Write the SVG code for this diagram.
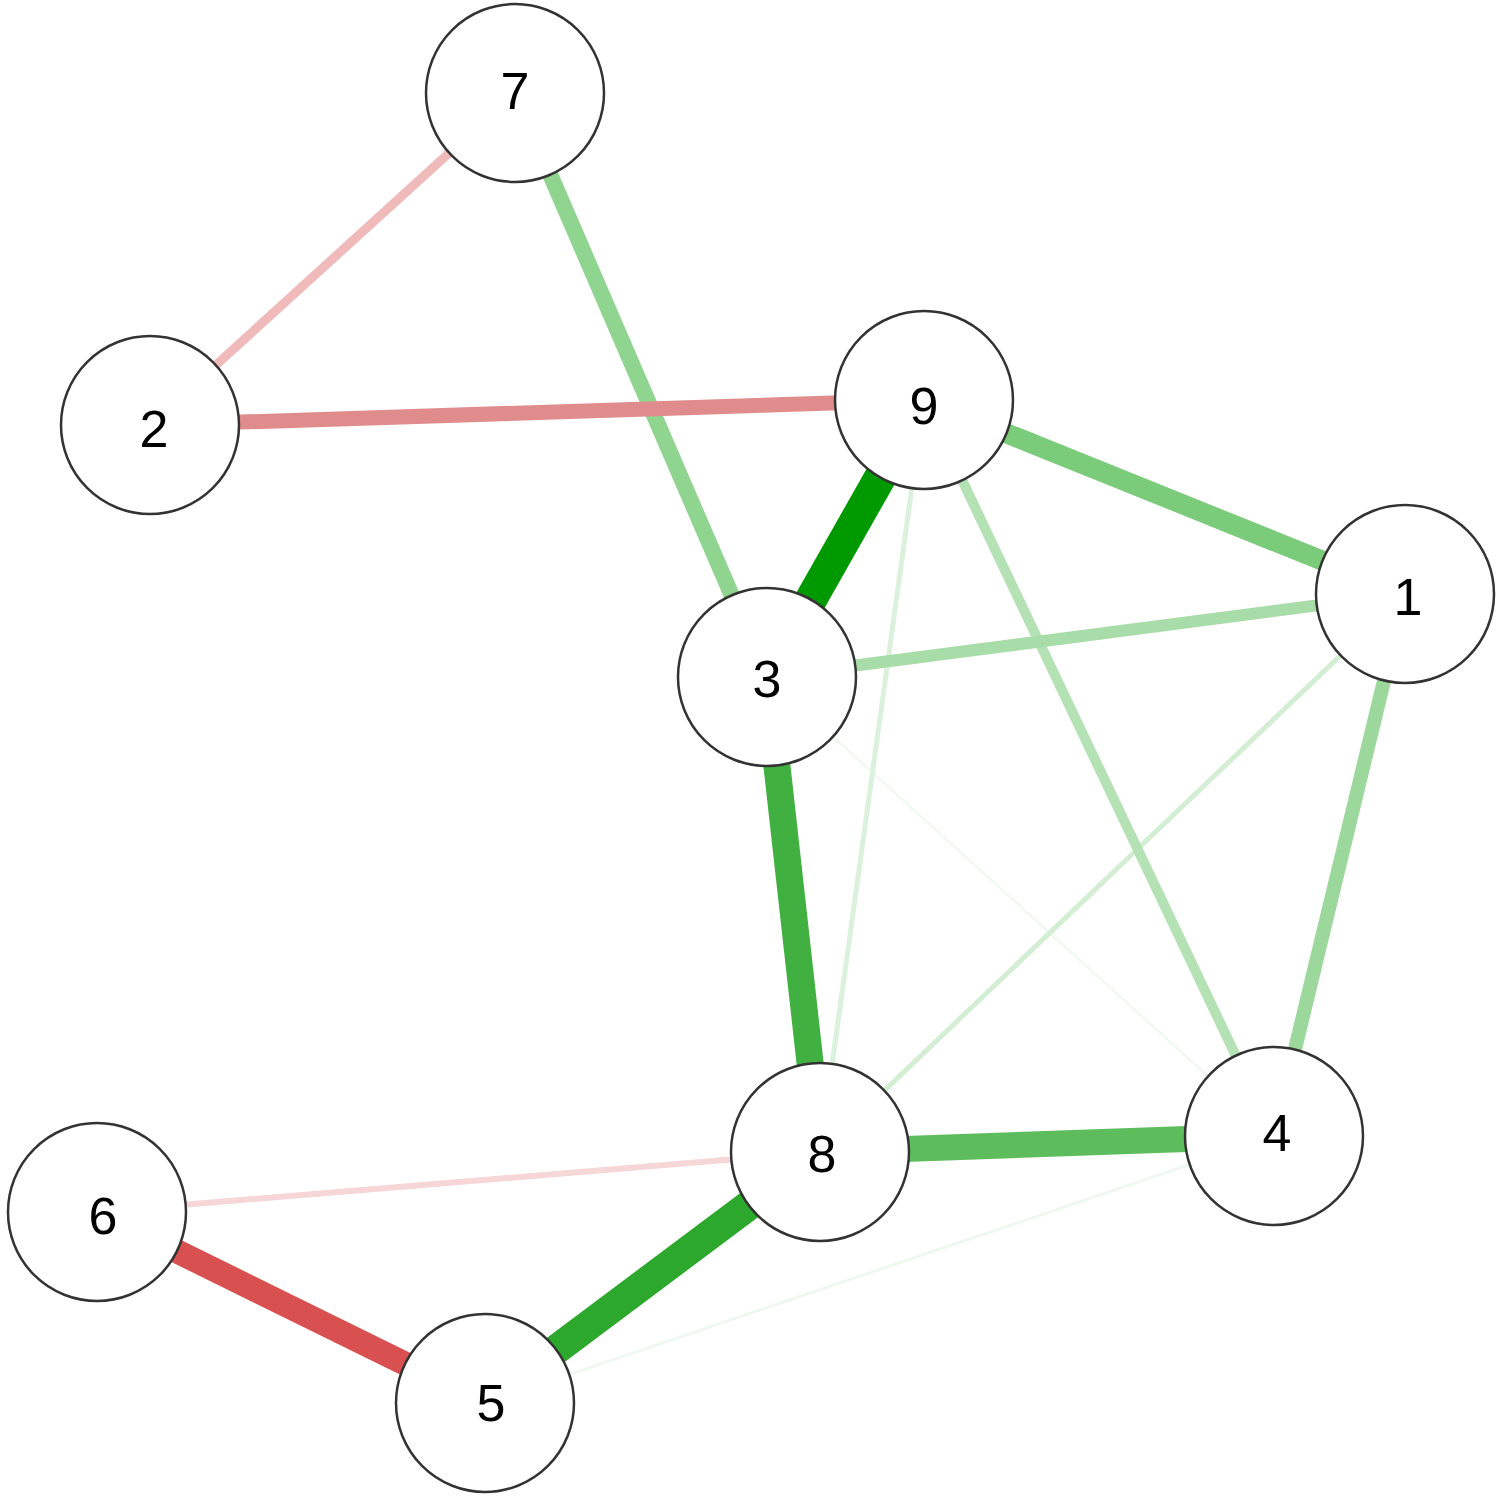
<svg xmlns="http://www.w3.org/2000/svg" width="1500" height="1498" viewBox="0 0 1500 1498">
<style>
.node circle{fill:#fff;stroke:#333;stroke-width:2.5}
.node text{font-family:"Liberation Sans",Arial,sans-serif;font-size:52px;fill:#000;text-anchor:middle}
.edges line{stroke-linecap:butt}
</style>
<rect width="1500" height="1498" fill="#fff"/>
<g id="connectors" class="edges">
<line x1="767" y1="677" x2="1274" y2="1136" stroke="#eef8ee" stroke-width="2"/>
<line x1="485" y1="1403" x2="1274" y2="1136" stroke="#eff8ef" stroke-width="3"/>
<line x1="924" y1="400" x2="820" y2="1152" stroke="#dcf1dc" stroke-width="5"/>
<line x1="1405" y1="594" x2="820" y2="1152" stroke="#d4eed4" stroke-width="5"/>
<line x1="820" y1="1152" x2="97" y2="1212" stroke="#f6d6d6" stroke-width="6"/>
<line x1="515" y1="93" x2="150" y2="425" stroke="#f0baba" stroke-width="9"/>
<line x1="924" y1="400" x2="1274" y2="1136" stroke="#b5e2b5" stroke-width="10"/>
<line x1="767" y1="677" x2="1405" y2="594" stroke="#a8dca8" stroke-width="12"/>
<line x1="1405" y1="594" x2="1274" y2="1136" stroke="#9cd89c" stroke-width="14"/>
<line x1="515" y1="93" x2="767" y2="677" stroke="#8fd48f" stroke-width="16"/>
<line x1="150" y1="425" x2="924" y2="400" stroke="#e08c8c" stroke-width="15"/>
<line x1="924" y1="400" x2="1405" y2="594" stroke="#7acb7a" stroke-width="20"/>
<line x1="820" y1="1152" x2="1274" y2="1136" stroke="#5dbd5d" stroke-width="26"/>
<line x1="97" y1="1212" x2="485" y2="1403" stroke="#d95050" stroke-width="24"/>
<line x1="767" y1="677" x2="820" y2="1152" stroke="#40b040" stroke-width="27"/>
<line x1="485" y1="1403" x2="820" y2="1152" stroke="#2ca82c" stroke-width="30"/>
<line x1="924" y1="400" x2="767" y2="677" stroke="#009900" stroke-width="32"/>
</g>
<g id="node-7" class="node"><circle cx="515" cy="93" r="89"/><text x="515" y="109">7</text></g>
<g id="node-2" class="node"><circle cx="150" cy="425" r="89"/><text x="154" y="447">2</text></g>
<g id="node-9" class="node"><circle cx="924" cy="400" r="89"/><text x="924" y="424">9</text></g>
<g id="node-1" class="node"><circle cx="1405" cy="594" r="89"/><text x="1408" y="615">1</text></g>
<g id="node-3" class="node"><circle cx="767" cy="677" r="89"/><text x="767" y="697">3</text></g>
<g id="node-8" class="node"><circle cx="820" cy="1152" r="89"/><text x="822" y="1172">8</text></g>
<g id="node-4" class="node"><circle cx="1274" cy="1136" r="89"/><text x="1277" y="1151">4</text></g>
<g id="node-6" class="node"><circle cx="97" cy="1212" r="89"/><text x="103" y="1234">6</text></g>
<g id="node-5" class="node"><circle cx="485" cy="1403" r="89"/><text x="491" y="1421">5</text></g>
</svg>
